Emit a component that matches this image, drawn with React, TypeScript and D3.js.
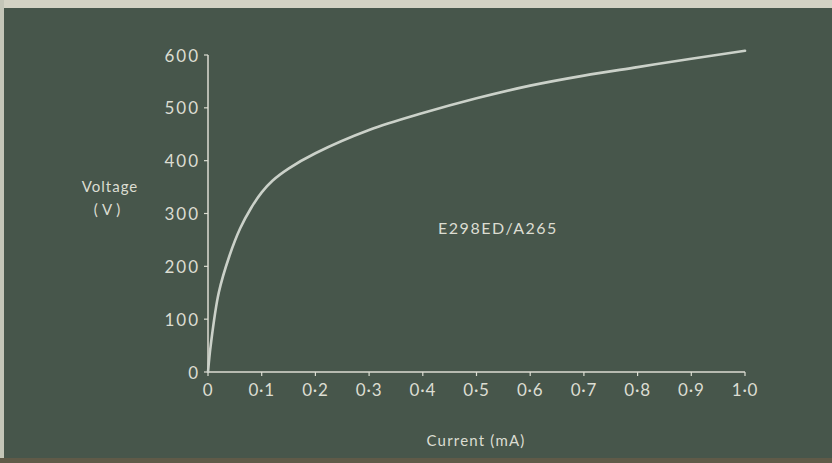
import React from "react";
import * as d3 from "d3";

const currentMA = [0, 0.005, 0.02, 0.04, 0.06, 0.08, 0.1, 0.12, 0.15, 0.2, 0.3, 0.4, 0.5, 0.6, 0.7, 0.8, 0.9, 1.0];
const voltageV = [0, 50, 150, 220, 272, 310, 340, 362, 385, 414, 458, 490, 518, 542, 561, 577, 593, 608];
const xTicks = [0, 0.1, 0.2, 0.3, 0.4, 0.5, 0.6, 0.7, 0.8, 0.9, 1.0];
const xTickLabels = ["0", "0·1", "0·2", "0·3", "0·4", "0·5", "0·6", "0·7", "0·8", "0·9", "1·0"];
const yTicks = [0, 100, 200, 300, 400, 500, 600];
const yTickLabels = ["0", "100", "200", "300", "400", "500", "600"];
const curveLabel = "E298ED/A265";
const xTitle = "Current (mA)";
const yTitle1 = "Voltage";
const yTitle2 = "(V)";

const W = 832;
const H = 463;
const BG = "#47564b";
const FG = "#dcddd2";
const FONT = "Lato, 'Noto Sans', sans-serif";

export default function App() {
  const x = d3.scaleLinear().domain([0, 1]).range([208, 745]);
  const y = d3.scaleLinear().domain([0, 600]).range([372, 55]);
  const pts: [number, number][] = currentMA.map((c, i) => [c, voltageV[i]]);
  const line = d3
    .line<[number, number]>()
    .x((d) => x(d[0]))
    .y((d) => y(d[1]))
    .curve(d3.curveCatmullRom.alpha(0.5));

  return (
    <>
      <style>{`body{margin:0;}`}</style>
      <svg width={W} height={H} style={{ display: "block" }}>
        <rect x={0} y={0} width={W} height={H} fill={BG} />
        <rect x={0} y={0} width={W} height={8} fill="#d3d2c4" />
        <rect x={0} y={0} width={4} height={H} fill="#c4c6b8" />
        <rect x={0} y={458} width={W} height={5} fill="#5f5a48" />

        {/* axes */}
        <line x1={x(0)} x2={x(0)} y1={y(0)} y2={y(600)} stroke={FG} strokeWidth={1.5} />
        <line x1={x(0)} x2={x(1)} y1={y(0)} y2={y(0)} stroke={FG} strokeWidth={1.5} />

        {yTicks.map((t, i) => (
          <g key={"y" + t}>
            <line x1={x(0) - 4} x2={x(0)} y1={y(t)} y2={y(t)} stroke={FG} strokeWidth={1.2} />
            <text
              x={x(0) - 8}
              y={y(t)}
              textAnchor="end"
              dominantBaseline="central"
              fill={FG}
              fontFamily={FONT}
              fontSize={17}
              letterSpacing={2}
            >
              {yTickLabels[i]}
            </text>
          </g>
        ))}

        {xTicks.map((t, i) => (
          <g key={"x" + t}>
            <line x1={x(t)} x2={x(t)} y1={y(0)} y2={y(0) + 4} stroke={FG} strokeWidth={1.2} />
            <text
              x={x(t)}
              y={389}
              textAnchor="middle"
              dominantBaseline="central"
              fill={FG}
              fontFamily={FONT}
              fontSize={17}
              letterSpacing={0.8}
            >
              {xTickLabels[i]}
            </text>
          </g>
        ))}

        <path d={line(pts) || ""} fill="none" stroke="#cbd1c9" strokeWidth={2.6} strokeLinecap="round" />

        <text x={498} y={227} textAnchor="middle" dominantBaseline="central" fill={FG} fontFamily={FONT} fontSize={16} letterSpacing={1.5}>
          {curveLabel}
        </text>
        <text x={476} y={440} textAnchor="middle" dominantBaseline="central" fill={FG} fontFamily={FONT} fontSize={15} letterSpacing={1.2}>
          {xTitle}
        </text>
        <text x={110} y={186} textAnchor="middle" dominantBaseline="central" fill={FG} fontFamily={FONT} fontSize={15} letterSpacing={1}>
          {yTitle1}
        </text>
        <text x={109} y={209} textAnchor="middle" dominantBaseline="central" fill={FG} fontFamily={FONT} fontSize={15} letterSpacing={4}>
          {yTitle2}
        </text>
      </svg>
    </>
  );
}
